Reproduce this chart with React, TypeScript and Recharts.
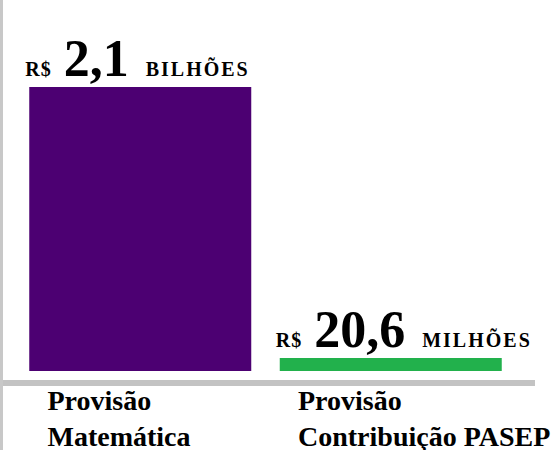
import React from 'react';
import { BarChart, Bar, XAxis, YAxis, Cell, LabelList } from 'recharts';

const categoryLine1 = ['Provisão', 'Provisão'];
const categoryLine2 = ['Matemática', 'Contribuição PASEP'];
const valuesInMillions = [2100, 20.6];
const valueTexts = ['2,1', '20,6'];
const unitTexts = ['BILHÕES', 'MILHÕES'];
const currency = 'R$';

const barColors = ['#4C0072', '#22B14C'];
const FONT = '"Liberation Serif", "Times New Roman", serif';

const data = categoryLine1.map((c, i) => ({
  name: `${c} ${categoryLine2[i]}`,
  value: valuesInMillions[i],
  idx: i,
}));

const CategoryTick = (props: any) => {
  const { x, y, payload } = props;
  const i = payload.index;
  return (
    <g>
      <text x={x - 93} y={y + 26.5} textAnchor="start" fontFamily={FONT} fontWeight="bold" fontSize={28} fill="#000">
        {categoryLine1[i]}
      </text>
      <text x={x - 93} y={y + 62.5} textAnchor="start" fontFamily={FONT} fontWeight="bold" fontSize={28} fill="#000">
        {categoryLine2[i]}
      </text>
    </g>
  );
};

const ValueLabel = (props: any) => {
  const { x, y, index } = props;
  return (
    <text x={x - 4} y={y - 11} textAnchor="start" fontFamily={FONT} fontWeight="bold" fill="#000">
      <tspan fontSize={20} letterSpacing={1}>{currency}</tspan>
      <tspan dx={12} fontSize={52}>{valueTexts[index]}</tspan>
      <tspan dx={17} fontSize={20} letterSpacing={2}>{unitTexts[index]}</tspan>
    </text>
  );
};

export default function App() {
  return (
    <div style={{ position: 'absolute', left: 0, top: 0, width: 556, height: 450, background: '#fff' }}>
      <div style={{ position: 'absolute', left: 0, top: 0, width: 3, height: 450, background: '#C8C8C8' }} />
      <div style={{ position: 'absolute', left: 3, top: 0 }}>
        <BarChart
          width={553}
          height={450}
          data={data}
          margin={{ top: 87, right: 21, bottom: 0, left: 0 }}
          barCategoryGap={0}
        >
          <XAxis
            dataKey="name"
            type="category"
            height={67}
            padding={{ left: 12.25, right: 18.75 }}
            axisLine={{ stroke: '#C3C3C3', strokeWidth: 6 }}
            tickLine={false}
            tickSize={0}
            tickMargin={0}
            interval={0}
            tick={<CategoryTick />}
          />
          <YAxis hide domain={[-89, 2100]} allowDataOverflow />
          <Bar dataKey="value" barSize={222} minPointSize={13} isAnimationActive={false}>
            {data.map((d, i) => (
              <Cell key={i} fill={barColors[i]} />
            ))}
            <LabelList dataKey="value" content={<ValueLabel />} />
          </Bar>
        </BarChart>
      </div>
    </div>
  );
}
